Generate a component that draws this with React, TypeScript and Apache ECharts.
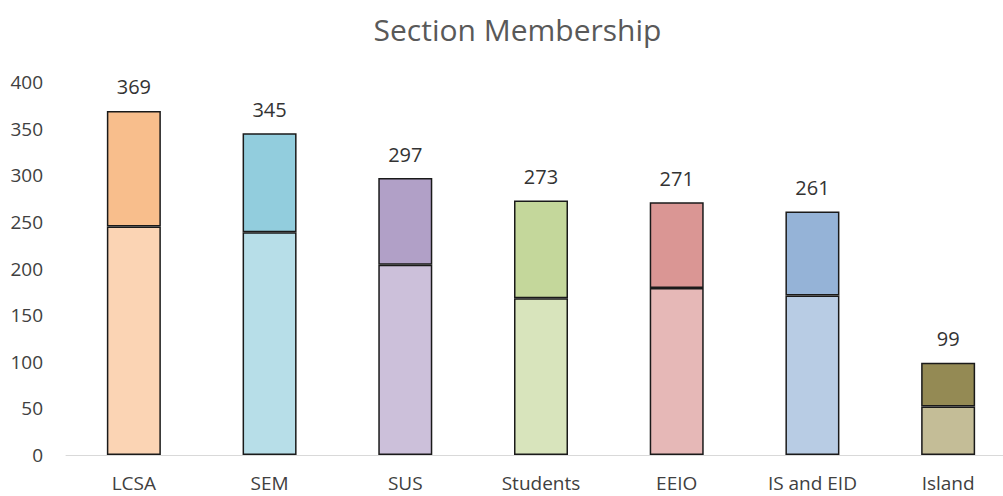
import React, { useEffect, useRef } from "react";
import * as echarts from "echarts";

const categories = ["LCSA", "SEM", "SUS", "Students", "EEIO", "IS and EID", "Island"];
const totals = [369, 345, 297, 273, 271, 261, 99];
const lowerValues = [245, 239, 204, 168, 179, 171, 52];
const upperColors = ["#F8BE8C", "#92CDDD", "#B1A0C7", "#C4D79B", "#DA9694", "#95B3D7", "#948A54"];
const lowerColors = ["#FBD4B4", "#B7DEE8", "#CCC0DA", "#D8E4BC", "#E6B8B7", "#B8CCE4", "#C4BD97"];
const yTicks = { min: 0, max: 400, interval: 50 };

const FONT = "'Open Sans', 'Noto Sans', sans-serif";

export default function App() {
  const ref = useRef<HTMLDivElement>(null);
  useEffect(() => {
    if (!ref.current) return;
    const chart = echarts.init(ref.current, null, { renderer: "svg" });
    const upperValues = totals.map((t, i) => t - lowerValues[i]);
    chart.setOption({
      animation: false,
      backgroundColor: "#ffffff",
      title: {
        text: "Section Membership",
        left: "center",
        top: 9,
        textStyle: { fontFamily: FONT, fontSize: 30, fontWeight: "normal", color: "#595959" },
      },
      grid: { left: 66, top: 82, width: 950, height: 373 },
      xAxis: {
        type: "category",
        data: categories,
        axisLine: { lineStyle: { color: "#D9D9D9", width: 1 } },
        axisTick: { show: false },
        axisLabel: { fontFamily: FONT, fontSize: 19, color: "#404040", margin: 18 },
      },
      yAxis: {
        type: "value",
        min: yTicks.min,
        max: yTicks.max,
        interval: yTicks.interval,
        splitLine: { show: false },
        axisLine: { show: false },
        axisTick: { show: false },
        axisLabel: { fontFamily: FONT, fontSize: 19, color: "#404040", margin: 23 },
      },
      series: [
        {
          type: "bar",
          stack: "m",
          barWidth: 54,
          data: lowerValues.map((v, i) => ({
            value: v,
            itemStyle: { color: lowerColors[i], borderColor: "#1a1a1a", borderWidth: 1.5 },
          })),
        },
        {
          type: "bar",
          stack: "m",
          barWidth: 54,
          data: upperValues.map((v, i) => ({
            value: v,
            itemStyle: { color: upperColors[i], borderColor: "#1a1a1a", borderWidth: 1.5 },
          })),
          label: {
            show: true,
            position: "top",
            distance: 14,
            fontFamily: FONT,
            fontSize: 20,
            color: "#333333",
            formatter: (p: any) => String(totals[p.dataIndex]),
          },
        },
      ],
    });
    return () => chart.dispose();
  }, []);
  return (
    <div style={{ position: "absolute", left: 0, top: 0, width: 1003, height: 496, overflow: "hidden", background: "#fff" }}>
      <div ref={ref} style={{ width: 1035, height: 496 }} />
    </div>
  );
}
